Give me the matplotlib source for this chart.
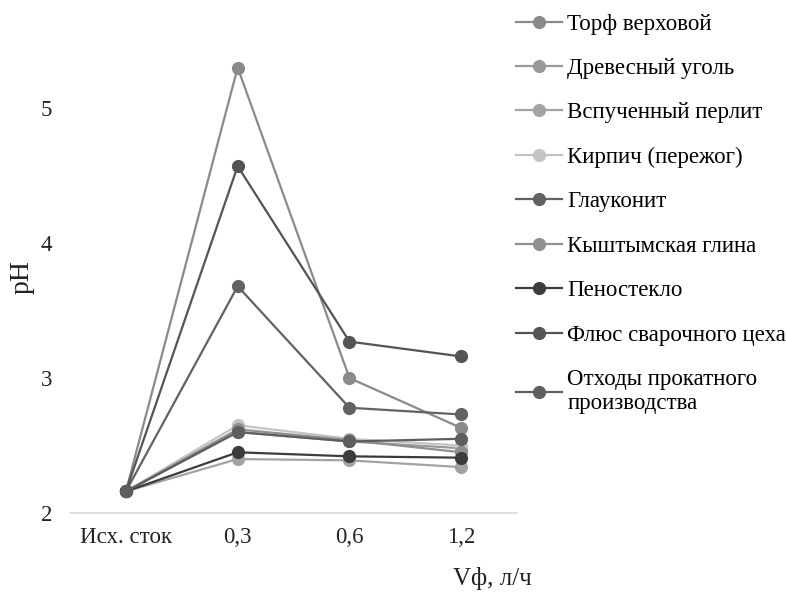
import matplotlib.pyplot as plt

plt.rcParams['font.family'] = ['Liberation Serif', 'DejaVu Serif']

# categories on x axis
categories = ['Исх. сток', '0,3', '0,6', '1,2']

# pH for each sorbent
names = ['Торф верховой', 'Древесный уголь', 'Вспученный перлит',
         'Кирпич (пережог)', 'Глауконит', 'Кыштымская глина',
         'Пеностекло', 'Флюс сварочного цеха',
         'Отходы прокатного\nпроизводства']
torf = [2.16, 5.30, 3.00, 2.63]
ugol = [2.16, 2.60, 2.53, 2.48]
perlit = [2.16, 2.40, 2.39, 2.34]
kirpich = [2.16, 2.65, 2.55, 2.50]
glaukonit = [2.16, 3.68, 2.78, 2.73]
glina = [2.16, 2.62, 2.54, 2.45]
penosteklo = [2.16, 2.45, 2.42, 2.41]
flus = [2.16, 4.57, 3.27, 3.16]
othody = [2.16, 2.60, 2.53, 2.55]

series = [torf, ugol, perlit, kirpich, glaukonit, glina, penosteklo, flus, othody]
colors = ['#8a8a8a', '#999999', '#a3a3a3', '#c4c4c4', '#626262',
          '#8f8f8f', '#3c3c3c', '#545454', '#5e5e5e']

fig = plt.figure(figsize=(7.86, 5.92), dpi=100)
ax = fig.add_axes([0.089, 0.1334, 0.569, 0.798])

x = range(len(categories))
lines = []
for vals, name, c in zip(series, names, colors):
    ln, = ax.plot(x, vals, color=c, lw=1.6, marker='o', ms=9.5,
                  markeredgewidth=0, label=name)
    lines.append(ln)

ax.set_xlim(-0.5, 3.5)
ax.set_ylim(2, 5.5)
ax.set_yticks([2, 3, 4, 5])
ax.set_xticks(list(x))
ax.set_xticklabels(categories)
ax.tick_params(length=0, labelsize=16.5, colors='#222222')
ax.tick_params(axis='x', pad=10)
ax.tick_params(axis='y', pad=13)
for s in ['top', 'right', 'left']:
    ax.spines[s].set_visible(False)
ax.spines['bottom'].set_color('#d9d9d9')
ax.spines['bottom'].set_linewidth(1.2)

ax.set_ylabel('pH', fontsize=20, color='#222222', labelpad=4)
fig.text(492 / 786, 1 - 578 / 592, 'Vф, л/ч', fontsize=18, color='#222222',
         ha='center', va='center')

fig.legend(handles=lines, loc='upper left', bbox_to_anchor=(0.630, 1.012),
           frameon=False, fontsize=16.5, labelspacing=1.02,
           handlelength=2.0, handletextpad=0.25)

fig.savefig('out.png', dpi=100)
